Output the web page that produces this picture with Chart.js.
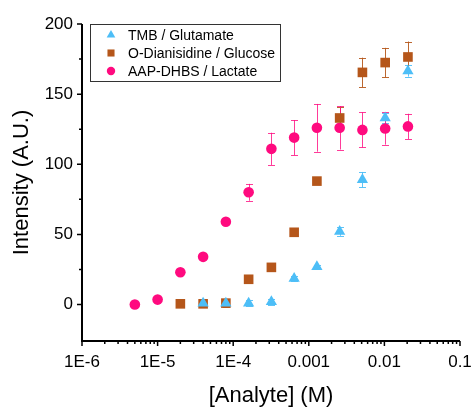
<!DOCTYPE html>
<html>
<head>
<meta charset="utf-8">
<script src="https://cdn.jsdelivr.net/npm/chart.js@4.4.1/dist/chart.umd.min.js"></script>
<style>
  html, body { margin: 0; padding: 0; background: #fff; }
  #wrap { width: 476px; height: 410px; }
</style>
</head>
<body>
<div id="wrap"><canvas id="chart" width="476" height="410"></canvas></div>
<script>
// concentrations (M), doubling series
const conc = [5e-6, 1e-5, 2e-5, 4e-5, 8e-5, 1.6e-4, 3.2e-4, 6.4e-4, 1.28e-3, 2.56e-3, 5.12e-3, 1.024e-2, 2.048e-2]

const lactateConc = conc
const lactate = [0, 3.5, 23, 34, 59, 80, 111, 119, 126, 126, 124.5, 125.5, 127]
const lactateErr = [1, 1, 1, 1, 1, 6, 11.5, 12.5, 17, 15.5, 12.5, 11.5, 9]

const glucoseConc = conc.slice(2)
const glucose = [0.5, 0.5, 1, 18, 26.5, 51.5, 88, 133, 165.5, 172.5, 176.5]
const glucoseErr = [1, 1, 3, 1, 1, 1, 1, 7.5, 10.5, 10.5, 11]

const glutamateConc = conc.slice(3)
const glutamate = [1, 1, 1, 2, 18.5, 27, 52, 89, 133, 166.5]
const glutamateErr = [3, 3, 2, 2, 2, 1, 3, 5.5, 3.5, 4]

const yTicks = [0, 50, 100, 150, 200]
const yMinorTicks = [25, 75, 125, 175]
const xTicks = [1e-6, 1e-5, 1e-4, 1e-3, 1e-2, 1e-1]
const xTickLabels = ["1E-6", "1E-5", "1E-4", "0.001", "0.01", "0.1"]

Chart.defaults.font.family = "Arial, 'Liberation Sans', sans-serif"
Chart.defaults.color = "#000"

const toPoints = (xs, ys) => xs.map((v, i) => ({ x: v, y: ys[i] }))

// error bars, drawn under the markers
const errorBars = {
  id: "errorBars",
  beforeDatasetsDraw(chart) {
    const { ctx, scales: { x, y } } = chart
    chart.data.datasets.forEach(ds => {
      ctx.save()
      ctx.strokeStyle = ds.errColor
      ctx.lineWidth = 1
      ds.data.forEach((p, i) => {
        const err = ds.errors[i]
        const px = Math.round(x.getPixelForValue(p.x)) + 0.5
        const top = y.getPixelForValue(p.y + err)
        const bot = y.getPixelForValue(p.y - err)
        ctx.beginPath()
        ctx.moveTo(px, top)
        ctx.lineTo(px, bot)
        ctx.moveTo(px - 3.5, Math.round(top) + 0.5)
        ctx.lineTo(px + 3.5, Math.round(top) + 0.5)
        ctx.moveTo(px - 3.5, Math.round(bot) + 0.5)
        ctx.lineTo(px + 3.5, Math.round(bot) + 0.5)
        ctx.stroke()
      })
      ctx.restore()
    })
  }
}

// axis lines with major / minor tick marks, and the boxed legend
const axesAndLegend = {
  id: "axesAndLegend",
  afterDraw(chart) {
    const { ctx, chartArea: area, scales: { x, y } } = chart
    ctx.save()
    ctx.strokeStyle = "#000"
    ctx.lineWidth = 2
    ctx.beginPath()
    ctx.moveTo(area.left, area.top)
    ctx.lineTo(area.left, area.bottom)
    ctx.lineTo(area.right, area.bottom)
    ctx.stroke()

    ctx.lineWidth = 1.5
    ctx.beginPath()
    yTicks.forEach(v => {
      const py = y.getPixelForValue(v)
      ctx.moveTo(area.left, py)
      ctx.lineTo(area.left - 5, py)
    })
    yMinorTicks.forEach(v => {
      const py = y.getPixelForValue(v)
      ctx.moveTo(area.left, py)
      ctx.lineTo(area.left - 3, py)
    })
    xTicks.forEach(v => {
      const px = x.getPixelForValue(v)
      ctx.moveTo(px, area.bottom)
      ctx.lineTo(px, area.bottom + 5)
    })
    for (let d = 0; d < xTicks.length - 1; d++) {
      for (let m = 2; m <= 9; m++) {
        const px = x.getPixelForValue(xTicks[d] * m)
        ctx.moveTo(px, area.bottom)
        ctx.lineTo(px, area.bottom + 3)
      }
    }
    ctx.stroke()

    // legend box
    const bx = 90.5, by = 24.5, bw = 190, bh = 57
    ctx.lineWidth = 1
    ctx.strokeStyle = "#333"
    ctx.strokeRect(bx, by, bw, bh)
    ctx.font = "14px Arial, 'Liberation Sans', sans-serif"
    ctx.textBaseline = "middle"
    chart.data.datasets.forEach((ds, i) => {
      const ry = 35 + i * 18
      ctx.fillStyle = ds.backgroundColor
      ctx.strokeStyle = ds.backgroundColor
      Chart.helpers.drawPoint(ctx, {
        pointStyle: ds.pointStyle,
        radius: ds.legendRadius,
        rotation: 0,
        borderWidth: 0
      }, 111, ry)
      ctx.fillStyle = "#000"
      ctx.fillText(ds.label, 128, ry + 1)
    })
    ctx.restore()
  }
}

new Chart(document.getElementById("chart"), {
  type: "scatter",
  data: {
    datasets: [
      {
        label: "TMB / Glutamate",
        data: toPoints(glutamateConc, glutamate),
        errors: glutamateErr,
        errColor: "rgba(77, 190, 247, 0.9)",
        pointStyle: "triangle",
        pointRadius: 6.5,
        legendRadius: 5,
        backgroundColor: "#4DBEF7",
        borderColor: "#4DBEF7",
        borderWidth: 0,
      },
      {
        label: "O-Dianisidine / Glucose",
        data: toPoints(glucoseConc, glucose),
        errors: glucoseErr,
        errColor: "rgba(181, 86, 26, 0.9)",
        pointStyle: "rect",
        pointRadius: 6.8,
        legendRadius: 5,
        backgroundColor: "#B5561A",
        borderColor: "#B5561A",
        borderWidth: 0,
      },
      {
        label: "AAP-DHBS / Lactate",
        data: toPoints(lactateConc, lactate),
        errors: lactateErr,
        errColor: "rgba(255, 10, 127, 0.8)",
        pointStyle: "circle",
        pointRadius: 5.3,
        legendRadius: 4.2,
        backgroundColor: "#FF0A7F",
        borderColor: "#FF0A7F",
        borderWidth: 0,
      },
    ],
  },
  options: {
    responsive: false,
    animation: false,
    events: [],
    layout: {
      padding: { top: 24, right: 16, left: 0, bottom: 0 },
    },
    plugins: {
      legend: { display: false },
      tooltip: { enabled: false },
    },
    scales: {
      x: {
        type: "logarithmic",
        min: 1e-6,
        max: 0.1,
        afterBuildTicks: scale => {
          scale.ticks = xTicks.map(v => ({ value: v }))
        },
        afterFit: scale => {
          scale.height = 69
          scale.paddingLeft = 0
          scale.paddingRight = 0
        },
        ticks: {
          callback: (v, i) => xTickLabels[i],
          font: { size: 17 },
          color: "#000",
          padding: 11,
          maxRotation: 0,
          autoSkip: false,
        },
        grid: { display: true, drawOnChartArea: false, drawTicks: false },
        border: { display: false },
        title: {
          display: true,
          text: "[Analyte] (M)",
          font: { size: 22 },
          color: "#000",
          padding: { top: 0, bottom: 1 },
        },
      },
      y: {
        min: -26,
        max: 200,
        afterBuildTicks: scale => {
          scale.ticks = yTicks.map(v => ({ value: v }))
        },
        afterFit: scale => {
          scale.width = 82
          scale.paddingTop = 0
          scale.paddingBottom = 0
        },
        ticks: {
          font: { size: 17 },
          color: "#000",
          padding: 9,
        },
        grid: { display: true, drawOnChartArea: false, drawTicks: false },
        border: { display: false },
        title: {
          display: true,
          text: "Intensity (A.U.)",
          font: { size: 22 },
          color: "#000",
          padding: { top: 9, bottom: 0 },
        },
      },
    },
  },
  plugins: [errorBars, axesAndLegend],
})
</script>
</body>
</html>
